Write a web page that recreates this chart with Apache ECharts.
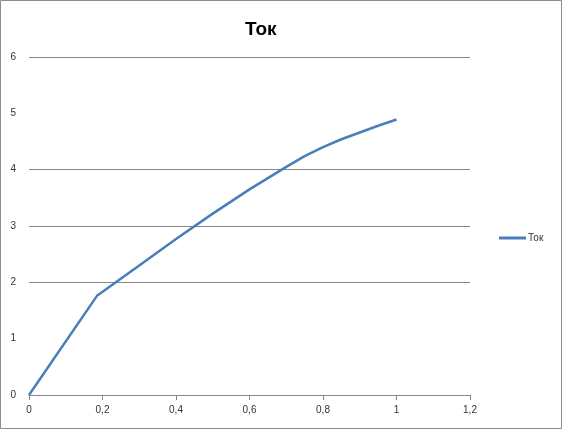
<!DOCTYPE html>
<html>
<head>
<meta charset="utf-8">
<script src="https://cdn.jsdelivr.net/npm/echarts@6/dist/echarts.min.js"></script>
<style>
html,body{margin:0;padding:0;background:#fff;}
#chart{width:562px;height:429px;}
</style>
</head>
<body>
<div id="chart"></div>
<script>
const titleText = 'Ток';
const seriesName = 'Ток';
const xValues = [0, 0.185, 0.3, 0.4, 0.5, 0.6, 0.7, 0.75, 0.8, 0.85, 0.9, 0.95, 1.0];
const yValues = [0, 1.76, 2.30, 2.77, 3.22, 3.65, 4.05, 4.24, 4.40, 4.54, 4.66, 4.78, 4.89];
const xTickLabels = ['0', '0,2', '0,4', '0,6', '0,8', '1', '1,2'];
const yTickLabels = ['0', '1', '2', '3', '4', '5', '6'];

const chart = echarts.init(document.getElementById('chart'), null, {renderer: 'canvas'});
const font = '"Liberation Sans", Arial, sans-serif';
const gridColor = '#868686';

chart.setOption({
  animation: false,
  backgroundColor: '#fff',
  title: {
    text: titleText,
    left: 240,
    top: 15,
    textStyle: {fontFamily: font, fontWeight: 'bold', fontSize: 19, color: '#000'}
  },
  legend: {
    left: 494,
    top: 228,
    itemWidth: 27,
    itemHeight: 3,
    itemGap: 2,
    icon: 'rect',
    textStyle: {fontFamily: font, fontSize: 10, color: '#333', padding: [0, 0, 0, -3]},
    data: [seriesName]
  },
  grid: {left: 29, right: 92, top: 57, bottom: 34, containLabel: false},
  xAxis: {
    type: 'value',
    min: 0, max: 1.2, interval: 0.2,
    axisLine: {show: true, lineStyle: {color: gridColor, width: 1}},
    axisTick: {show: true, length: 5, lineStyle: {color: gridColor}},
    splitLine: {show: false},
    axisLabel: {
      margin: 10,
      fontFamily: font, fontSize: 10, color: '#333',
      formatter: function (v) { return xTickLabels[Math.round(v / 0.2)]; }
    }
  },
  yAxis: {
    type: 'value',
    min: 0, max: 6, interval: 1,
    axisLine: {show: false},
    axisTick: {show: false},
    splitLine: {show: true, lineStyle: {color: [gridColor, 'rgba(0,0,0,0)', gridColor, gridColor, gridColor, 'rgba(0,0,0,0)', gridColor], width: 1}},
    axisLabel: {
      margin: 13,
      fontFamily: font, fontSize: 10, color: '#333',
      formatter: function (v) { return yTickLabels[Math.round(v)]; }
    }
  },
  graphic: [{
    type: 'rect',
    shape: {x: 0.5, y: 0.5, width: 561, height: 428},
    style: {fill: 'none', stroke: '#8c8c8c', lineWidth: 1},
    silent: true
  }],
  series: [{
    name: seriesName,
    type: 'line',
    data: xValues.map((x, i) => [x, yValues[i]]),
    showSymbol: false,
    symbol: 'none',
    smooth: false,
    itemStyle: {color: '#4A7EBB'},
    lineStyle: {color: '#4A7EBB', width: 2.5, join: 'round'}
  }]
});
</script>
</body>
</html>
